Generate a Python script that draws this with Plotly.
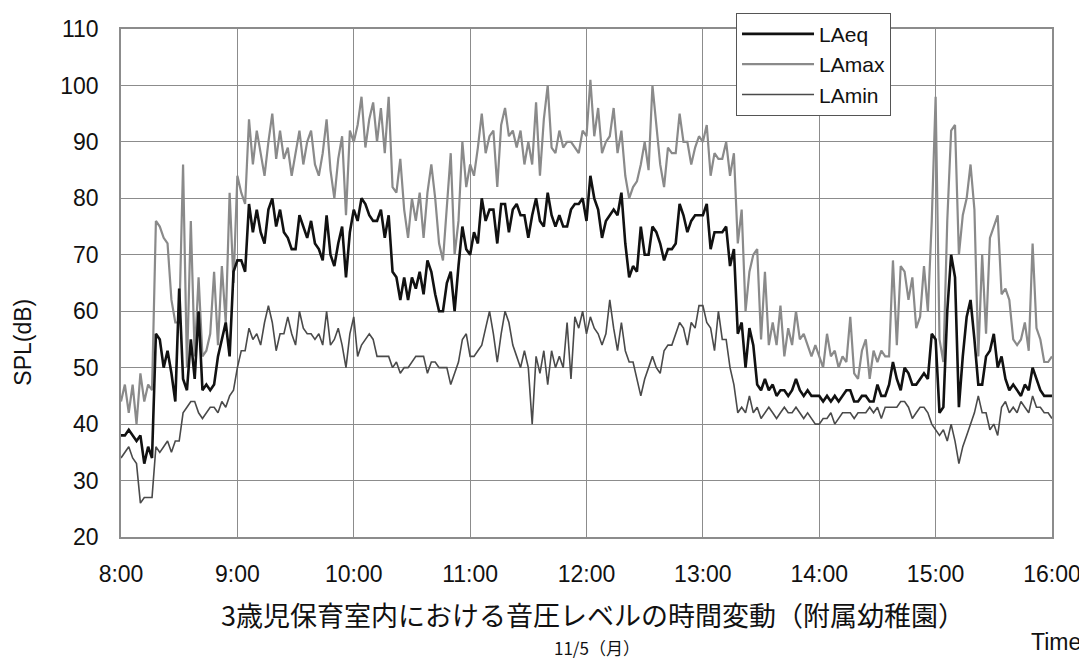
import plotly.graph_objects as go

# ---- data (2-minute samples, 8:00 - 16:00) ----
tick_labels = ["8:00", "9:00", "10:00", "11:00", "12:00", "13:00", "14:00", "15:00", "16:00"]
tick_minutes = [480, 540, 600, 660, 720, 780, 840, 900, 960]

la_max_08 = [44, 47, 42, 47, 40, 49, 44, 47, 46, 76, 75, 73, 72, 62, 58, 58, 86, 50, 76, 52, 66, 52, 53, 56, 67, 54, 68, 58, 81, 65]
la_max_09 = [84, 81, 79, 94, 86, 92, 88, 84, 90, 95, 87, 92, 87, 89, 84, 88, 92, 86, 90, 92, 86, 84, 88, 94, 85, 80, 87, 91, 77, 92]
la_max_10 = [90, 93, 98, 89, 94, 97, 90, 96, 88, 98, 82, 81, 87, 78, 73, 80, 76, 81, 73, 81, 86, 80, 72, 69, 78, 88, 70, 76, 90, 82]
la_max_11 = [86, 84, 89, 95, 88, 91, 92, 82, 93, 96, 91, 92, 89, 92, 86, 90, 86, 97, 84, 94, 100, 89, 88, 92, 89, 90, 90, 89, 88, 92]
la_max_12 = [91, 101, 91, 96, 88, 90, 91, 96, 88, 92, 84, 80, 82, 83, 86, 90, 85, 100, 93, 86, 82, 89, 88, 88, 95, 90, 90, 86, 89, 91]
la_max_13 = [90, 93, 84, 88, 87, 87, 90, 84, 88, 72, 78, 60, 67, 70, 71, 55, 67, 54, 58, 54, 61, 52, 57, 54, 60, 55, 56, 54, 52, 54]
la_max_14 = [52, 50, 56, 52, 53, 50, 52, 51, 59, 49, 48, 53, 55, 48, 53, 51, 53, 52, 52, 69, 54, 68, 67, 62, 66, 57, 59, 68, 60, 76]
la_max_15 = [98, 55, 51, 76, 92, 93, 70, 77, 80, 86, 78, 52, 70, 56, 73, 75, 77, 63, 64, 62, 55, 54, 55, 58, 53, 72, 57, 55, 51, 51]
la_max_16 = [52]

la_eq_08 = [38, 38, 39, 38, 37, 38, 33, 36, 34, 56, 55, 50, 53, 49, 44, 64, 48, 46, 55, 48, 60, 46, 47, 46, 47, 52, 55, 58, 52, 67]
la_eq_09 = [69, 69, 67, 79, 74, 78, 74, 72, 78, 80, 75, 78, 74, 73, 71, 71, 77, 75, 73, 76, 72, 71, 69, 77, 70, 68, 72, 75, 66, 74]
la_eq_10 = [78, 76, 80, 79, 77, 76, 76, 78, 73, 77, 67, 66, 62, 66, 62, 66, 64, 67, 63, 69, 67, 63, 60, 60, 65, 67, 60, 68, 75, 71]
la_eq_11 = [70, 74, 72, 80, 76, 78, 78, 72, 79, 79, 74, 78, 79, 77, 77, 73, 77, 80, 76, 75, 81, 77, 75, 77, 75, 75, 78, 79, 79, 80]
la_eq_12 = [76, 84, 80, 78, 73, 76, 77, 78, 77, 81, 72, 66, 68, 67, 75, 70, 70, 75, 74, 72, 69, 71, 71, 72, 79, 77, 74, 76, 77, 77]
la_eq_13 = [77, 79, 71, 74, 74, 74, 75, 68, 71, 56, 58, 50, 57, 54, 47, 46, 48, 46, 47, 45, 46, 46, 45, 46, 48, 46, 45, 46, 45, 45]
la_eq_14 = [45, 44, 45, 44, 45, 44, 45, 46, 46, 44, 44, 45, 45, 44, 44, 47, 45, 45, 47, 51, 48, 46, 50, 49, 47, 47, 48, 49, 48, 56]
la_eq_15 = [55, 42, 43, 60, 70, 66, 43, 52, 59, 62, 55, 47, 47, 52, 53, 56, 50, 52, 48, 46, 47, 46, 45, 47, 46, 50, 48, 46, 45, 45]
la_eq_16 = [45]

la_min_08 = [34, 35, 36, 34, 33, 26, 27, 27, 27, 36, 35, 36, 37, 35, 37, 37, 42, 43, 44, 44, 42, 41, 42, 43, 43, 42, 44, 43, 45, 46]
la_min_09 = [50, 53, 53, 57, 55, 56, 54, 58, 61, 58, 53, 56, 56, 59, 56, 54, 60, 57, 56, 56, 55, 56, 54, 60, 54, 55, 57, 54, 50, 56]
la_min_10 = [59, 52, 54, 55, 56, 55, 52, 52, 52, 52, 50, 51, 49, 50, 50, 51, 52, 52, 52, 49, 51, 51, 50, 50, 50, 47, 49, 51, 55, 56]
la_min_11 = [52, 52, 53, 54, 57, 60, 56, 51, 56, 60, 58, 54, 52, 50, 53, 50, 40, 52, 49, 53, 47, 53, 50, 52, 50, 58, 48, 59, 57, 60]
la_min_12 = [56, 59, 57, 56, 54, 56, 62, 57, 53, 58, 53, 51, 51, 48, 45, 48, 50, 52, 50, 49, 53, 54, 54, 56, 58, 57, 54, 58, 57, 61]
la_min_13 = [61, 58, 57, 53, 60, 55, 55, 50, 47, 42, 43, 42, 45, 42, 43, 41, 42, 43, 42, 41, 42, 43, 42, 42, 43, 42, 41, 42, 41, 40]
la_min_14 = [40, 41, 41, 42, 40, 41, 42, 42, 42, 41, 42, 42, 42, 43, 42, 43, 41, 43, 43, 43, 43, 44, 44, 43, 41, 42, 43, 43, 42, 40]
la_min_15 = [39, 38, 39, 37, 40, 37, 33, 36, 38, 40, 42, 45, 42, 42, 39, 40, 38, 43, 44, 42, 43, 42, 44, 43, 42, 45, 43, 43, 42, 42]
la_min_16 = [41]

LAmax = la_max_08 + la_max_09 + la_max_10 + la_max_11 + la_max_12 + la_max_13 + la_max_14 + la_max_15 + la_max_16
LAeq = la_eq_08 + la_eq_09 + la_eq_10 + la_eq_11 + la_eq_12 + la_eq_13 + la_eq_14 + la_eq_15 + la_eq_16
LAmin = la_min_08 + la_min_09 + la_min_10 + la_min_11 + la_min_12 + la_min_13 + la_min_14 + la_min_15 + la_min_16

sample_step = 2  # minutes between samples
minutes = [480 + sample_step * i for i in range(len(LAeq))]

FONT = "Liberation Sans, Arial, sans-serif"
CJK = "Noto Sans CJK JP, sans-serif"

fig = go.Figure()
fig.add_trace(go.Scatter(x=minutes, y=LAmax, mode="lines", name="LAmax", legendrank=2,
                         line=dict(color="#8a8a8a", width=2.2)))
fig.add_trace(go.Scatter(x=minutes, y=LAmin, mode="lines", name="LAmin", legendrank=3,
                         line=dict(color="#4a4a4a", width=1.6)))
fig.add_trace(go.Scatter(x=minutes, y=LAeq, mode="lines", name="LAeq", legendrank=1,
                         line=dict(color="#111111", width=2.6)))

# page body has an 8px default margin, so the figure is sized/margined to compensate
fig.update_layout(
    width=1079, height=652, autosize=False,
    margin=dict(l=113, r=35, t=21, b=123, autoexpand=False),
    paper_bgcolor="white", plot_bgcolor="white",
    font=dict(family=FONT, color="#111111", size=22),
    showlegend=True,
    legend=dict(x=0.6606, y=1.032, xanchor="left", yanchor="top",
                bgcolor="white", bordercolor="#555555", borderwidth=1,
                font=dict(family=FONT, size=21, color="#111111"),
                tracegroupgap=0, itemwidth=72),
    xaxis=dict(range=[480, 960], tickmode="array", tickvals=tick_minutes, ticktext=tick_labels,
               showgrid=True, gridcolor="#8c8c8c", gridwidth=1,
               showline=True, linecolor="#8c8c8c", linewidth=1.5, mirror=True,
               ticks="", zeroline=False, ticklabelstandoff=16,
               tickfont=dict(family=FONT, size=23, color="#111111")),
    yaxis=dict(range=[20, 110], tickmode="linear", tick0=20, dtick=10,
               showgrid=True, gridcolor="#8c8c8c", gridwidth=1,
               showline=True, linecolor="#8c8c8c", linewidth=1.5, mirror=True,
               ticks="", zeroline=False, ticklabelstandoff=16,
               tickfont=dict(family=FONT, size=23, color="#111111")),
    annotations=[
        dict(text="SPL(dB)", textangle=-90, xref="paper", yref="paper",
             x=-0.1055, y=0.384, xanchor="center", yanchor="middle", showarrow=False,
             font=dict(family=FONT, size=23, color="#111111")),
        dict(text="3歳児保育室内における音圧レベルの時間変動（附属幼稚園）", xref="paper", yref="paper",
             x=0.507, y=-0.1535, xanchor="center", yanchor="middle", showarrow=False,
             font=dict(family=CJK, size=27, color="#111111")),
        dict(text="11/5（月）", xref="paper", yref="paper",
             x=0.511, y=-0.2185, xanchor="center", yanchor="middle", showarrow=False,
             font=dict(family=CJK, size=17, color="#111111")),
        dict(text="Time", xref="paper", yref="paper",
             x=1.033, y=-0.207, xanchor="right", yanchor="middle", showarrow=False,
             font=dict(family=FONT, size=23, color="#111111")),
    ],
)

fig.write_html("out.html")
